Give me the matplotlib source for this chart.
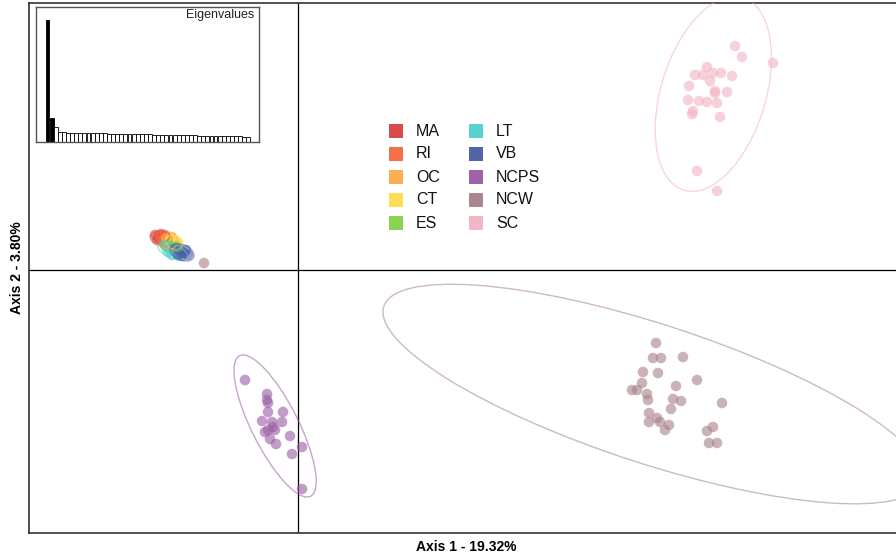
import numpy as np
import matplotlib
matplotlib.use("Agg")
import matplotlib.pyplot as plt
from matplotlib.patches import Ellipse

# ---------------- data ----------------
groups = ["MA", "RI", "OC", "CT", "ES", "LT", "VB", "NCPS", "NCW", "SC"]
colors = ["#D94040", "#F4683F", "#FBAA4A", "#FDDB4A", "#84D147",
          "#4FCFD0", "#4B5AA3", "#9A5BA5", "#A68187", "#F2B3C1"]

ma_x = [-1.43, -1.40, -1.37, -1.35, -1.41, -1.33, -1.38]
ma_y = [0.35, 0.33, 0.36, 0.32, 0.30, 0.34, 0.31]
ri_x = [-1.38, -1.35, -1.32, -1.36, -1.30, -1.33]
ri_y = [0.34, 0.30, 0.32, 0.28, 0.29, 0.35]
oc_x = [-1.32, -1.28, -1.30, -1.26, -1.24, -1.29]
oc_y = [0.32, 0.30, 0.27, 0.33, 0.28, 0.25]
ct_x = [-1.28, -1.24, -1.22, -1.26, -1.20]
ct_y = [0.31, 0.29, 0.26, 0.24, 0.28]
es_x = [-1.30, -1.27, -1.24, -1.32, -1.22]
es_y = [0.26, 0.23, 0.21, 0.23, 0.24]
lt_x = [-1.33, -1.28, -1.23, -1.30, -1.20, -1.26, -1.18]
lt_y = [0.25, 0.20, 0.18, 0.18, 0.20, 0.15, 0.16]
vb_x = [-1.22, -1.18, -1.14, -1.16, -1.12, -1.20, -1.10]
vb_y = [0.22, 0.20, 0.17, 0.14, 0.20, 0.15, 0.15]
ncps_x = [-0.53, -0.31, -0.31, -0.30, -0.30, -0.15, -0.36, -0.26, -0.16, -0.25,
          -0.30, -0.23, -0.33, -0.08, -0.28, -0.22, 0.04, -0.06, 0.04]
ncps_y = [-1.10, -1.24, -1.30, -1.33, -1.42, -1.42, -1.51, -1.52, -1.52, -1.57,
          -1.60, -1.60, -1.62, -1.66, -1.69, -1.74, -1.77, -1.84, -2.19]
ncw_x = [3.58, 3.55, 3.63, 3.85, 3.45, 3.60, 3.44, 3.34, 3.39, 3.78, 3.99, 3.49,
         3.50, 3.75, 3.83, 4.24, 3.73, 3.51, 3.51, 3.59, 3.62, 3.71, 3.67, 4.15,
         4.09, 4.11, 4.19, -0.94]
ncw_y = [-0.73, -0.88, -0.88, -0.87, -1.02, -1.03, -1.13, -1.20, -1.20, -1.16,
         -1.10, -1.24, -1.30, -1.29, -1.31, -1.33, -1.39, -1.43, -1.52, -1.48,
         -1.52, -1.55, -1.60, -1.57, -1.61, -1.73, -1.73, 0.07]
sc_x = [4.37, 4.44, 4.75, 4.09, 3.97, 4.05, 4.15, 4.23, 4.34, 4.12, 3.91, 4.17,
        4.29, 4.17, 3.90, 4.01, 4.09, 4.19, 3.95, 3.94, 4.22, 3.99, 4.19]
sc_y = [2.24, 2.13, 2.07, 2.03, 1.95, 1.95, 1.97, 1.97, 1.94, 1.89, 1.84, 1.79,
        1.78, 1.77, 1.70, 1.69, 1.68, 1.67, 1.59, 1.56, 1.53, 0.99, 0.79]

group_x = [ma_x, ri_x, oc_x, ct_x, es_x, lt_x, vb_x, ncps_x, ncw_x, sc_x]
group_y = [ma_y, ri_y, oc_y, ct_y, es_y, lt_y, vb_y, ncps_y, ncw_y, sc_y]

eigenvalues = [19.32, 3.80, 2.40, 1.55, 1.52, 1.50, 1.48, 1.47, 1.45, 1.43,
               1.42, 1.40, 1.39, 1.37, 1.35, 1.34, 1.33, 1.31, 1.30, 1.28,
               1.27, 1.25, 1.24, 1.22, 1.21, 1.19, 1.18, 1.16, 1.15, 1.13,
               1.12, 1.10, 1.09, 1.07, 1.06, 1.04, 1.03, 1.01, 1.00, 0.98,
               0.97, 0.95, 0.94, 0.92, 0.91, 0.90, 0.89, 0.88, 0.87, 0.86]
n_kept = 2
axis1_pct = 19.32
axis2_pct = 3.80

# ---------------- figure ----------------
W, H = 896, 560
fig = plt.figure(figsize=(W / 100, H / 100), dpi=100)
fig.patch.set_facecolor("white")

ax = fig.add_axes([29 / W, (H - 533) / H, (899 - 29) / W, (533 - 3) / H])
ax.set_xlim(-2.69, 6.01)
ax.set_ylim(-2.63, 2.67)
ax.set_xticks([])
ax.set_yticks([])
for s in ax.spines.values():
    s.set_color("#333333")
    s.set_linewidth(1.2)
ax.axhline(0, color="black", lw=0.9, zorder=1)
ax.axvline(0, color="black", lw=0.9, zorder=1)

ell_scale = 3.0
for name, col, xs, ys in zip(groups, colors, group_x, group_y):
    xs = np.asarray(xs)
    ys = np.asarray(ys)
    ax.scatter(xs, ys, s=58, color=col, alpha=0.6, edgecolors="none", zorder=3)
    cov = np.cov(xs, ys, ddof=0)
    vals, vecs = np.linalg.eigh(cov)
    order = vals.argsort()[::-1]
    vals = vals[order]
    vecs = vecs[:, order]
    ang = np.degrees(np.arctan2(vecs[1, 0], vecs[0, 0]))
    e = Ellipse((xs.mean(), ys.mean()), 2 * ell_scale * np.sqrt(vals[0]),
                2 * ell_scale * np.sqrt(vals[1]), angle=ang, fill=False,
                edgecolor=col, lw=1.0, alpha=0.55, zorder=4)
    ax.add_patch(e)

# legend (manual)
for i, (name, col) in enumerate(zip(groups, colors)):
    c, r = divmod(i, 5)
    px = 396 + c * 80
    py = 131 + r * 23
    xa = (px - 29) / (899 - 29)
    ya = (533 - py) / (533 - 3)
    ax.scatter([xa], [ya], marker="s", s=88, color=col, alpha=0.95,
               edgecolors="none", transform=ax.transAxes, zorder=5)
    ax.text(xa + 20 / 870, ya, name, transform=ax.transAxes, fontsize=11.5,
            family=["Liberation Sans", "DejaVu Sans"], color="#111111",
            va="center", ha="left", zorder=5)

# eigenvalue inset
ins = fig.add_axes([36 / W, (H - 142) / H, (259 - 36) / W, (142 - 7) / H])
ins.set_facecolor("white")
idx = np.arange(len(eigenvalues))
bar_cols = ["black" if i < n_kept else "white" for i in idx]
ins.bar(idx, eigenvalues, width=0.95, color=bar_cols, edgecolor="black",
        linewidth=0.6)
ins.set_xlim(-2.8, len(eigenvalues) + 1.6)
ins.set_ylim(0, eigenvalues[0] * 135 / 122)
ins.set_xticks([])
ins.set_yticks([])
for s in ins.spines.values():
    s.set_color("#555555")
    s.set_linewidth(1.0)
ins.text(0.98, 0.985, "Eigenvalues", transform=ins.transAxes, ha="right",
         va="top", fontsize=9, family=["Liberation Sans", "DejaVu Sans"],
         color="#222222")

# axis titles
fig.text(466 / W, 1 - 547 / H, f"Axis 1 - {axis1_pct:.2f}%", ha="center",
         va="center", fontsize=10, fontweight="bold",
         family=["Liberation Sans Narrow", "Liberation Sans", "DejaVu Sans"])
fig.text(17 / W, 1 - 268 / H, f"Axis 2 - {axis2_pct:.2f}%", ha="center",
         va="center", rotation=90, fontsize=10, fontweight="bold",
         family=["Liberation Sans Narrow", "Liberation Sans", "DejaVu Sans"])

fig.savefig("out.png", dpi=100)
